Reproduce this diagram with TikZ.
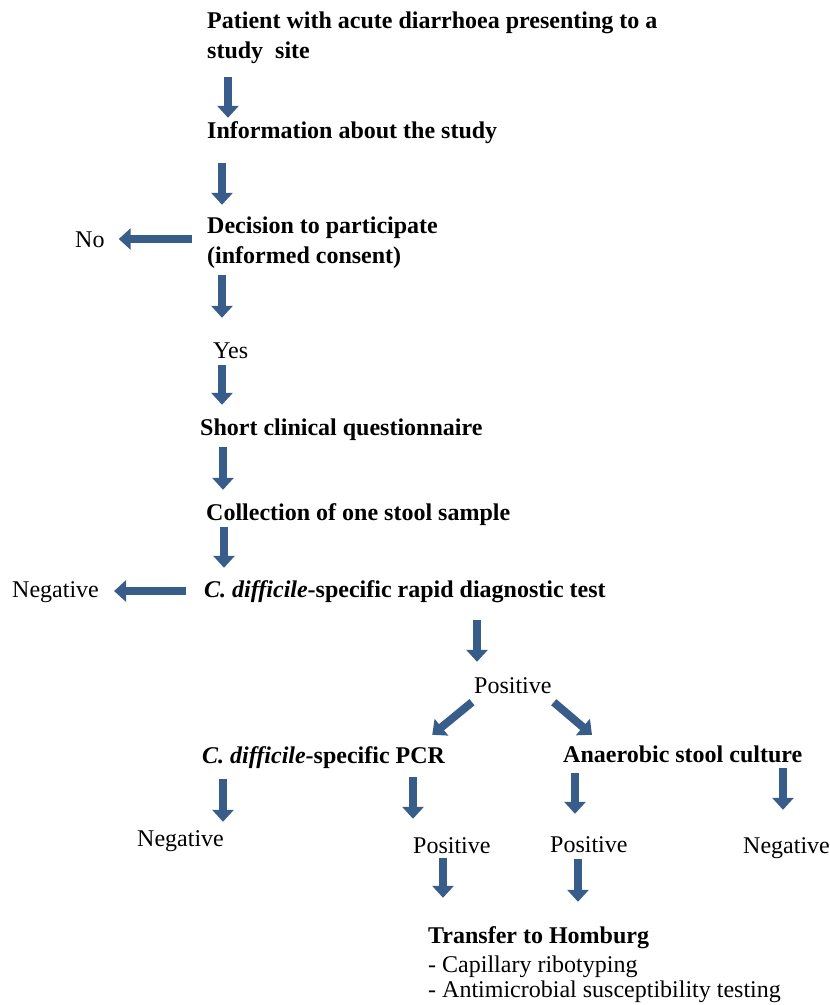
\documentclass[tikz,border=0pt]{standalone}
\usepackage{fontspec}
\setmainfont{Liberation Serif}
\usetikzlibrary{arrows.meta}
\definecolor{arrowblue}{RGB}{56,93,138}

\begin{document}
\begin{tikzpicture}[x=1pt, y=-1pt,
    every node/.style={inner sep=0pt, anchor=base west, text height=17pt, text depth=5pt,
      font=\fontsize{24}{29}\selectfont},
    steptext/.style={font=\fontsize{24}{29}\selectfont\bfseries},
    blockarrow/.style={arrowblue, line width=8pt, -{Triangle[width=21pt,length=12pt]}}]
        \useasboundingbox (0,0) rectangle (830,1005);

        % Main steps
        \node[steptext] (patient1) at (207,28) {Patient with acute diarrhoea presenting to a};
        \node[steptext] (patient2) at (207,58) {study\ \ site};
        \node[steptext] (info) at (207,138) {Information about the study};
        \node[steptext] (decision) at (207,233) {Decision to participate};
        \node[steptext] (consent) at (207,263) {(informed consent)};
        \node (no) at (75,247) {No};
        \node (yes) at (213,358) {Yes};
        \node[steptext] (short) at (200,435) {Short clinical questionnaire};
        \node[steptext] (collection) at (206,520) {Collection of one stool sample};
        \node[steptext] (rapid) at (204,597) {\textit{C. difficile}-specific rapid diagnostic test};
        \node (negleft) at (12,597) {Negative};
        \node (pos0) at (474,693) {Positive};

        % Confirmation tests
        \node[steptext] (pcr) at (202,763) {\textit{C. difficile}-specific PCR};
        \node[steptext] (culture) at (563,762) {Anaerobic stool culture};
        \node (neg1) at (137,846) {Negative};
        \node (pos1) at (413,853) {Positive};
        \node (pos2) at (550,852) {Positive};
        \node (neg2) at (743,853) {Negative};

        % Reference laboratory
        \node[steptext] (transfer) at (428,943) {Transfer to Homburg};
        \node (ribo) at (428,972) {- Capillary ribotyping};
        \node (ast) at (428,997) {- Antimicrobial susceptibility testing};

        % Arrows
        \draw[blockarrow, shorten <=14pt, shorten >=3pt] ([xshift=21pt]patient2.south west) -- ([xshift=21pt]patient2.south west |- info.north);
        \draw[blockarrow, shorten <=20pt, shorten >=11pt] ([xshift=15pt]info.south west) -- ([xshift=15pt]info.south west |- decision.north);
        \draw[blockarrow, shorten <=15pt, shorten >=14pt] ([yshift=-12pt]decision.west) -- ([yshift=-12pt]decision.west -| no.east);
        \draw[blockarrow, shorten <=7pt, shorten >=23pt] ([xshift=15pt]consent.south west) -- ([xshift=15pt]consent.south west |- yes.north);
        \draw[blockarrow, shorten <=2pt, shorten >=13pt] ([xshift=9pt]yes.south west) -- ([xshift=9pt]yes.south west |- short.north);
        \draw[blockarrow, shorten <=7pt, shorten >=13pt] ([xshift=23pt]short.south west) -- ([xshift=23pt]short.south west |- collection.north);
        \draw[blockarrow, shorten <=2pt, shorten >=12pt] ([xshift=18pt]collection.south west) -- ([xshift=18pt]collection.south west |- rapid.north);
        \draw[blockarrow, shorten <=18pt, shorten >=15pt] (rapid.west) -- (negleft.east);
        \draw[blockarrow, shorten <=18pt, shorten >=14pt] ([xshift=3pt]pos0.north west |- rapid.south) -- ([xshift=3pt]pos0.north west);
        \draw[blockarrow] ([shift={(-2pt,-4pt)}]pos0.south west) -- ([shift={(-13pt,11pt)}]pcr.north east);
        \draw[blockarrow] ([shift={(2pt,-4pt)}]pos0.south east) -- ([shift={(29pt,10pt)}]culture.north west);
        \draw[blockarrow, shorten <=11pt, shorten >=7pt] ([xshift=21pt]pcr.south west) -- ([xshift=21pt]pcr.south west |- neg1.north);
        \draw[blockarrow, shorten <=9pt, shorten >=17pt] (pcr.south -| pos1.west) -- (pos1.north west);
        \draw[blockarrow, shorten <=6pt, shorten >=21pt] ([xshift=25pt]pos2.north west |- culture.south) -- ([xshift=25pt]pos2.north west);
        \draw[blockarrow, shorten <=1pt, shorten >=26pt] ([xshift=40pt]neg2.north west |- culture.south) -- ([xshift=40pt]neg2.north west);
        \draw[blockarrow, shorten >=28pt] ([xshift=30pt]pos1.south west) -- ([xshift=30pt]pos1.south west |- transfer.north);
        \draw[blockarrow, shorten <=2pt, shorten >=24pt] ([xshift=28pt]pos2.south west) -- ([xshift=28pt]pos2.south west |- transfer.north);
    \end{tikzpicture}
\end{document}
